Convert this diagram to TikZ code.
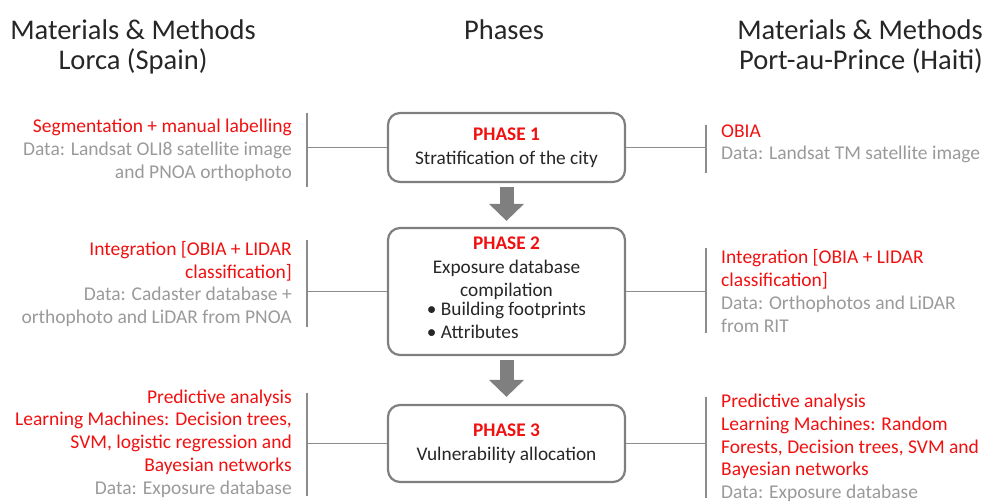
\documentclass[tikz,border=0pt]{standalone}
\usepackage{fontspec}
\setmainfont{Carlito}
\usetikzlibrary{arrows.meta,calc}
\definecolor{myred}{HTML}{F01010}
\definecolor{dgray}{HTML}{9A9A9A}
\definecolor{bgray}{HTML}{7F7F7F}
\definecolor{lgray}{HTML}{8C8C8C}
\tikzset{
  phase/.style={draw=bgray, line width=2.2pt, rounded corners=12pt, minimum width=237pt,
    align=center, inner sep=0pt, font=\fontsize{19.3}{23.5}\selectfont, text=black!85},
  ltext/.style={align=right, anchor=east, inner sep=0pt, font=\fontsize{19.5}{22.7}\selectfont},
  rtext/.style={align=left, anchor=west, inner sep=0pt, font=\fontsize{19.5}{22.7}\selectfont},
  head/.style={inner sep=0pt, font=\fontsize{28.5}{30}\selectfont, text=black!85},
  conn/.style={draw=lgray, line width=1.8pt},
  bigarrow/.style={draw=bgray, line width=14pt, -{Triangle[width=34pt,length=17pt]}},
}
\newcommand{\rd}[1]{\textcolor{myred}{#1}}
\newcommand{\gy}[1]{\textcolor{dgray}{#1}}
\begin{document}
\begin{tikzpicture}[x=1pt,y=-1pt]
\useasboundingbox (0,0) rectangle (983,502);

% headers
\node[head] (h1) at (133,30) {Materials \& Methods};
\node[head] (h2) at (133,61) {Lorca (Spain)};
\node[head] (h3) at (504,30) {Phases};
\node[head] (h4) at (860,30) {Materials \& Methods};
\node[head] (h5) at (861,61) {Port-au-Prince (Haiti)};

% phase boxes
\node[phase, minimum height=69pt] (p1) at (506.5,147.5)
  {\rd{\bfseries PHASE 1}\\Stratification of the city};
\node[phase, minimum height=127pt] (p2) at (506.5,291.5)
  {\rd{\bfseries PHASE 2}\\Exposure database\\compilation\\[-2pt]
   \begin{tabular}{@{}l@{}}• Building footprints\\• Attributes\end{tabular}};
\node[phase, minimum height=77pt] (p3) at (506.5,443.5)
  {\rd{\bfseries PHASE 3}\\Vulnerability allocation};

% block arrows
\draw[bigarrow, shorten <=4pt, shorten >=6pt] (p1.south) -- (p2.north);
\draw[bigarrow, shorten <=4pt, shorten >=7pt] (p2.south) -- (p3.north);

% bars
\coordinate (lb1t) at (307,113); \coordinate (lb1b) at (307,187);
\coordinate (lb2t) at (307,240); \coordinate (lb2b) at (307,327);
\coordinate (lb3t) at (307,393); \coordinate (lb3b) at (307,496);
\coordinate (rb1t) at (706,125); \coordinate (rb1b) at (706,173);
\coordinate (rb2t) at (706,248); \coordinate (rb2b) at (706,333);
\coordinate (rb3t) at (706,397); \coordinate (rb3b) at (706,498);

\foreach \a in {lb1,lb2,lb3,rb1,rb2,rb3} {\draw[conn] (\a t) -- (\a b);}
\draw[conn] (p1.west) -- (p1.west -| lb1t);
\draw[conn] (p2.west) -- (p2.west -| lb2t);
\draw[conn] (p3.west) -- (p3.west -| lb3t);
\draw[conn] (p1.east) -- (p1.east -| rb1t);
\draw[conn] (p2.east) -- (p2.east -| rb2t);
\draw[conn] (p3.east) -- (p3.east -| rb3t);

% left texts
\node[ltext] (l1) at (292,150.5) {\rd{Segmentation + manual labelling}\\
  \gy{Data: Landsat OLI8 satellite image}\\\gy{and PNOA orthophoto}};
\node[ltext] (l2) at (292,284) {\rd{Integration [OBIA + LIDAR}\\\rd{classification]}\\
  \gy{Data: Cadaster database +}\\\gy{orthophoto and LiDAR from PNOA}};
\node[ltext] (l3) at (292,443.5) {\rd{Predictive analysis}\\
  \rd{Learning Machines: Decision trees,}\\\rd{SVM, logistic regression and}\\
  \rd{Bayesian networks}\\\gy{Data: Exposure database}};

% right texts
\node[rtext] (r1) at (721,144) {\rd{OBIA}\\\gy{Data: Landsat TM satellite image}};
\node[rtext] (r2) at (721,291) {\rd{Integration [OBIA + LIDAR}\\\rd{classification]}\\
  \gy{Data: Orthophotos and LiDAR}\\\gy{from RIT}};
\node[rtext] (r3) at (721,448) {\rd{Predictive analysis}\\
  \rd{Learning Machines: Random}\\\rd{Forests, Decision trees, SVM and}\\
  \rd{Bayesian networks}\\\gy{Data: Exposure database}};
\end{tikzpicture}
\end{document}
